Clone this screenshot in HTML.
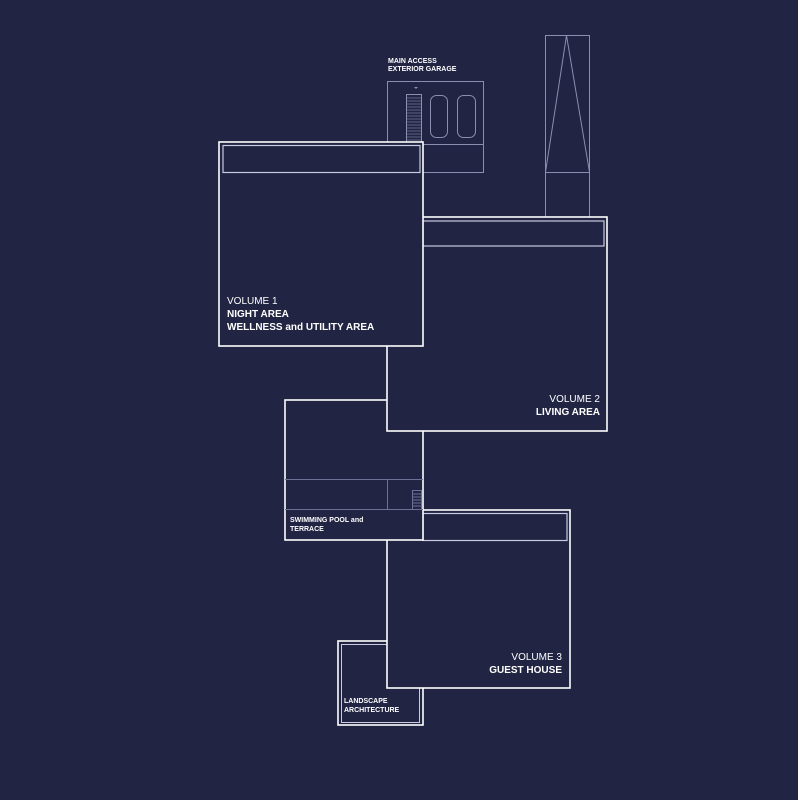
<!DOCTYPE html>
<html><head><meta charset="utf-8"><style>
html,body{margin:0;padding:0;background:#212443;}
svg{display:block}
text{font-family:"Liberation Sans",sans-serif;fill:#fff}
</style></head><body>
<svg width="798" height="800" viewBox="0 0 798 800" xmlns="http://www.w3.org/2000/svg">
<rect width="798" height="800" fill="#212443"/>
<g fill="none" stroke="#8a8fb0" stroke-width="1">
<!-- garage -->
<rect x="387.5" y="81.5" width="96" height="91"/>
<line x1="387" y1="144.5" x2="483" y2="144.5"/>
<rect x="406.5" y="94.5" width="15" height="48"/>
<g stroke-width="0.6">
<line x1="406" y1="98" x2="421" y2="98"/><line x1="406" y1="101" x2="421" y2="101"/><line x1="406" y1="104" x2="421" y2="104"/><line x1="406" y1="107" x2="421" y2="107"/><line x1="406" y1="110" x2="421" y2="110"/><line x1="406" y1="113" x2="421" y2="113"/><line x1="406" y1="116" x2="421" y2="116"/><line x1="406" y1="119" x2="421" y2="119"/><line x1="406" y1="122" x2="421" y2="122"/><line x1="406" y1="125" x2="421" y2="125"/><line x1="406" y1="128" x2="421" y2="128"/><line x1="406" y1="131" x2="421" y2="131"/><line x1="406" y1="134" x2="421" y2="134"/><line x1="406" y1="137" x2="421" y2="137"/><line x1="406" y1="140" x2="421" y2="140"/>
</g>
<rect x="430.5" y="95.5" width="17" height="42" rx="6"/>
<rect x="457.5" y="95.5" width="18" height="42" rx="6"/>
<!-- tower -->
<rect x="545.5" y="35.5" width="44" height="182"/>
<line x1="545" y1="172.5" x2="589" y2="172.5"/>
<polyline points="545.5,172 566.5,35.5 589.5,172"/>
</g>
<path d="M414 87 l2 2 l2 -2z" fill="#8a8fb0"/>
<g stroke="#ffffff" stroke-width="1.6" fill="#212443">
<!-- landscape -->
<rect x="338" y="641" width="85" height="84"/>
<rect x="341.5" y="644.5" width="78" height="78" stroke="#c9cbe0" stroke-width="1"/>
<!-- volume 3 -->
<rect x="387" y="510" width="183" height="178"/>
<rect x="423" y="513.5" width="144" height="27" stroke="#c9cbe0" stroke-width="1.2"/>
<!-- pool -->
<rect x="285" y="400" width="138" height="140"/>
<!-- volume 2 -->
<rect x="387" y="217" width="220" height="214"/>
<rect x="423" y="221" width="181" height="25" stroke="#c9cbe0" stroke-width="1.2"/>
<!-- volume 1 -->
<rect x="219" y="142" width="204" height="204"/>
<rect x="223" y="145.5" width="197" height="27" stroke="#c9cbe0" stroke-width="1.2"/>
</g>
<g fill="none" stroke="#6d7196" stroke-width="1">
<line x1="285" y1="479.5" x2="423" y2="479.5"/>
<line x1="285" y1="509.5" x2="423" y2="509.5"/>
<line x1="387.5" y1="479" x2="387.5" y2="509"/>
<rect x="412.5" y="490.5" width="9" height="19"/>
<line x1="412" y1="494" x2="421" y2="494"/><line x1="412" y1="497" x2="421" y2="497"/><line x1="412" y1="500" x2="421" y2="500"/><line x1="412" y1="503" x2="421" y2="503"/><line x1="412" y1="506" x2="421" y2="506"/>
</g>
<text x="388" y="63" font-size="7" font-weight="bold">MAIN ACCESS</text>
<text x="388" y="71" font-size="7" font-weight="bold">EXTERIOR GARAGE</text>
<text x="227" y="304" font-size="10">VOLUME 1</text>
<text x="227" y="317" font-size="10" font-weight="bold">NIGHT AREA</text>
<text x="227" y="330" font-size="10" font-weight="bold">WELLNESS and UTILITY AREA</text>
<text x="600" y="402" font-size="10" text-anchor="end">VOLUME 2</text>
<text x="600" y="415" font-size="10" font-weight="bold" text-anchor="end">LIVING AREA</text>
<text x="290" y="522" font-size="7" font-weight="bold">SWIMMING POOL and</text>
<text x="290" y="531" font-size="7" font-weight="bold">TERRACE</text>
<text x="562" y="660" font-size="10" text-anchor="end">VOLUME 3</text>
<text x="562" y="673" font-size="10" font-weight="bold" text-anchor="end">GUEST HOUSE</text>
<text x="344" y="703" font-size="7" font-weight="bold">LANDSCAPE</text>
<text x="344" y="712" font-size="7" font-weight="bold">ARCHITECTURE</text>
</svg>
</body></html>
